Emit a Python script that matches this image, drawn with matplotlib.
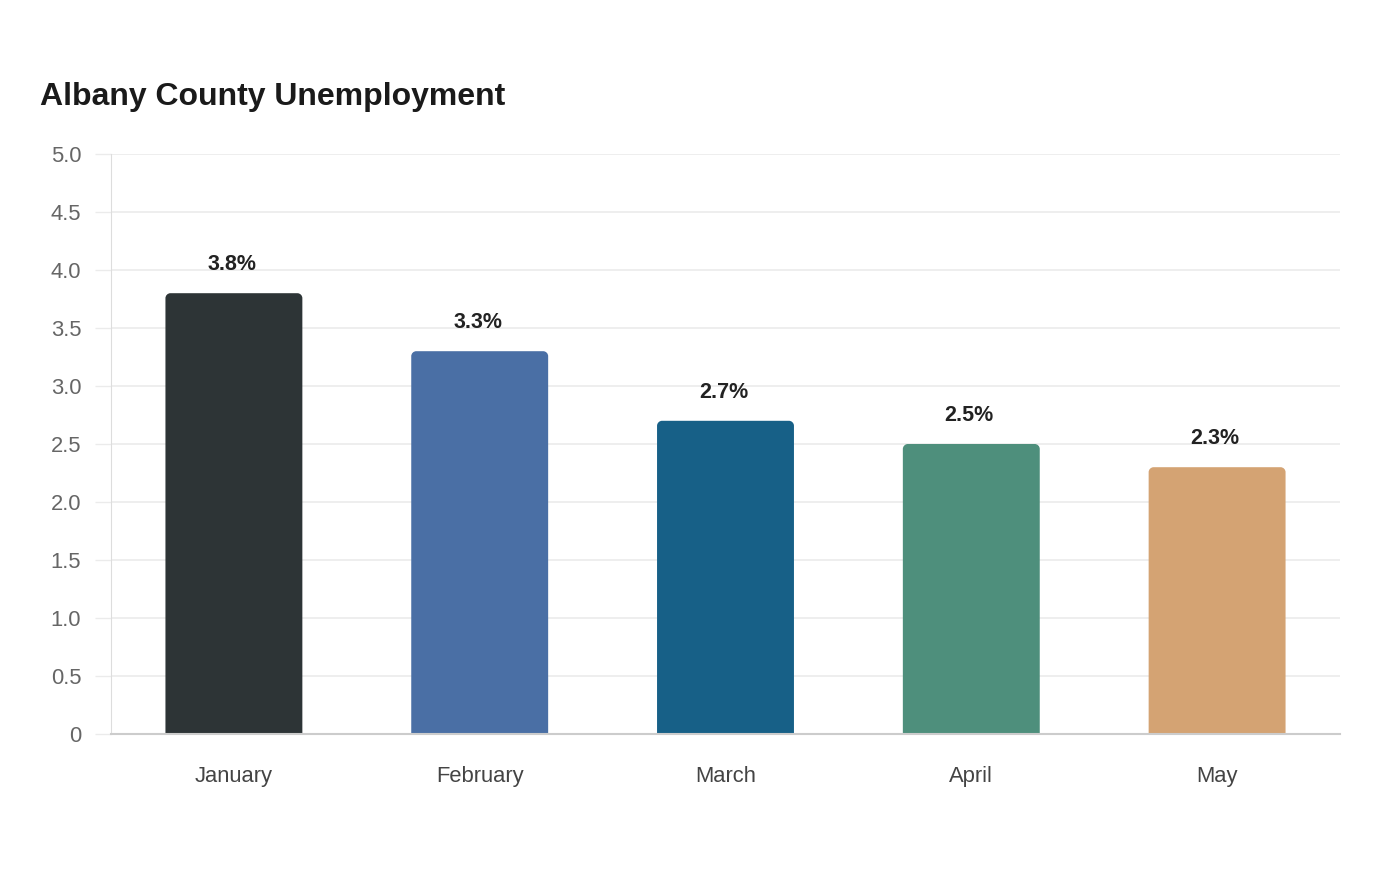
import matplotlib
matplotlib.use("Agg")
import matplotlib.pyplot as plt
from matplotlib.path import Path
from matplotlib.patches import PathPatch
import numpy as np

months = ["January", "February", "March", "April", "May"]
rates = [3.8, 3.3, 2.7, 2.5, 2.3]
colors = ["#2d3436", "#4a6fa5", "#176087", "#4e8f7c", "#d4a373"]
yticks = [0, 0.5, 1.0, 1.5, 2.0, 2.5, 3.0, 3.5, 4.0, 4.5, 5.0]
ytick_labels = ["0", "0.5", "1.0", "1.5", "2.0", "2.5", "3.0", "3.5", "4.0", "4.5", "5.0"]

plt.rcParams['font.family'] = ['Liberation Sans', 'DejaVu Sans']

W, H = 1400, 880
fig = plt.figure(figsize=(W / 100, H / 100), dpi=100)
fig.patch.set_facecolor("white")
ax = fig.add_axes([111 / W, (H - 734) / H, (1340 - 111) / W, (734 - 154) / H])

x = np.arange(len(months))
bars = ax.bar(x, rates, width=0.557, color=colors, zorder=3)
ax.set_xlim(-0.5, len(months) - 0.5)
ax.set_ylim(0, 5.0)

ax.set_yticks(yticks)
ax.set_yticklabels(ytick_labels)
ax.set_xticks(x)
ax.set_xticklabels(months)
ax.yaxis.grid(True, color="#ebebeb", linewidth=1.2, zorder=0)
ax.set_axisbelow(True)
ax.tick_params(axis="y", length=11.5, width=1, color="#ebebeb", labelsize=15.8,
               labelcolor="#666666", pad=10)
ax.tick_params(axis="x", length=0, labelsize=15.8, labelcolor="#444444", pad=23)
for s in ["top", "right"]:
    ax.spines[s].set_visible(False)
ax.spines["left"].set_color("#dddddd")
ax.spines["bottom"].set_color("#cccccc")
ax.spines["bottom"].set_linewidth(1.5)
ax.spines["bottom"].set_zorder(4)

# rounded top corners
fig.canvas.draw()
r = 5.0
inv = ax.transData.inverted()
for b in bars:
    x0, y0 = b.get_x(), b.get_y()
    x1, y1 = x0 + b.get_width(), y0 + b.get_height()
    (px0, py0), (px1, py1) = ax.transData.transform([(x0, y0), (x1, y1)])
    k = 0.5523
    verts = [(px0, py0), (px0, py1 - r), (px0, py1 - r + k * r), (px0 + r - k * r, py1), (px0 + r, py1),
             (px1 - r, py1), (px1 - r + k * r, py1), (px1, py1 - r + k * r), (px1, py1 - r),
             (px1, py0), (px0, py0)]
    codes = [Path.MOVETO, Path.LINETO, Path.CURVE4, Path.CURVE4, Path.CURVE4,
             Path.LINETO, Path.CURVE4, Path.CURVE4, Path.CURVE4,
             Path.LINETO, Path.CLOSEPOLY]
    dverts = inv.transform(verts)
    patch = PathPatch(Path(dverts, codes), facecolor=b.get_facecolor(), edgecolor="none",
                      transform=ax.transData, zorder=3)
    ax.add_patch(patch)
    b.set_visible(False)

for xi, v in zip(x, rates):
    ax.annotate(f"{v:.1f}%", (xi, v), xytext=(-1.5, 13), textcoords="offset points",
                ha="center", va="bottom", fontsize=15.5, fontweight="bold", color="#222222")

fig.text(40 / W, 1 - 97 / H, "Albany County Unemployment", fontsize=23, fontweight="bold",
         color="#1a1a1a", ha="left", va="center")

fig.savefig("out.png", dpi=100, facecolor="white")
